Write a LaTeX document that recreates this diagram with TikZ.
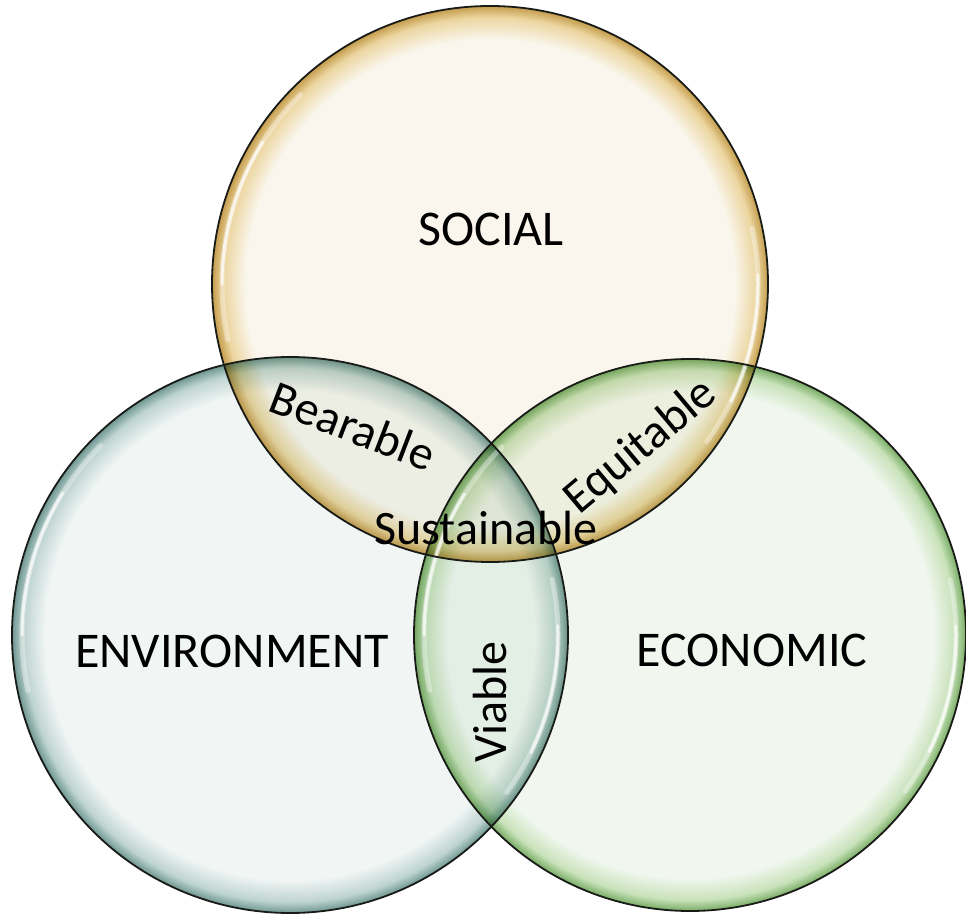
\documentclass[tikz,border=0pt]{standalone}
\usepackage{fontspec}
\setmainfont{Carlito}
\definecolor{socfill}{RGB}{250,246,237}
\definecolor{socring}{RGB}{236,214,160}
\definecolor{socedge}{RGB}{196,156,76}
\definecolor{envfill}{RGB}{241,246,245}
\definecolor{envring}{RGB}{190,212,208}
\definecolor{envedge}{RGB}{110,150,145}
\definecolor{ecofill}{RGB}{241,247,239}
\definecolor{ecoring}{RGB}{200,226,186}
\definecolor{ecoedge}{RGB}{120,172,100}
\definecolor{rimline}{RGB}{25,27,23}
\pgfdeclareradialshading{socshade}{\pgfpoint{0bp}{0bp}}{color(0bp)=(socfill); color(22bp)=(socfill); color(24bp)=(socring); color(25bp)=(socedge); color(50bp)=(socedge)}
\pgfdeclareradialshading{envshade}{\pgfpoint{0bp}{0bp}}{color(0bp)=(envfill); color(22bp)=(envfill); color(24bp)=(envring); color(25bp)=(envedge); color(50bp)=(envedge)}
\pgfdeclareradialshading{ecoshade}{\pgfpoint{0bp}{0bp}}{color(0bp)=(ecofill); color(22bp)=(ecofill); color(24bp)=(ecoring); color(25bp)=(ecoedge); color(50bp)=(ecoedge)}
\tikzset{
  disc/.style={blend mode=multiply},
  rim/.style={draw=rimline, line width=1.8pt},
  gloss/.style={draw=white, line width=5pt, line cap=round, opacity=0.35},
  glosscore/.style={draw=white, line width=3pt, line cap=round, opacity=0.7},
  bigtext/.style={font=\fontsize{50}{60}\selectfont, text=black, inner sep=0pt},
  smalltext/.style={font=\fontsize{48}{58}\selectfont, text=black, inner sep=0pt}
}
\begin{document}
\begin{tikzpicture}[x=1pt,y=1pt]
\useasboundingbox (0,0) rectangle (966,916);
\coordinate (S) at (490,632);
\coordinate (E) at (290,281);
\coordinate (C) at (690,281);
% discs
\shade[disc, shading=envshade] (E) circle[radius=278];
\shade[disc, shading=ecoshade] (C) circle[radius=276];
\shade[disc, shading=socshade] (S) circle[radius=278];
% gloss highlights
\foreach \c/\r in {S/268,E/268,C/266}{
  \path[gloss] (\c) ++(135:\r) arc[start angle=135, end angle=192, radius=\r];
  \path[glosscore] (\c) ++(148:\r) arc[start angle=148, end angle=180, radius=\r];
  \path[gloss] (\c) ++(-36:\r) arc[start angle=-36, end angle=12, radius=\r];
  \path[glosscore] (\c) ++(-26:\r) arc[start angle=-26, end angle=2, radius=\r];
}
% outlines
\draw[rim] (E) circle[radius=278];
\draw[rim] (C) circle[radius=276];
\draw[rim] (S) circle[radius=278];
% labels
\node[bigtext, anchor=base] (social) at (491,670) {SOCIAL};
\node[bigtext, anchor=base] (environment) at (232,248) {ENVIRONMENT};
\node[bigtext, anchor=base] (economic) at (752,249) {ECONOMIC};
\node[smalltext, rotate=-21] (bearable) at (353,490) {Bearable};
\node[smalltext, rotate=40] (equitable) at (641,469) {Equitable};
\node[smalltext, anchor=base] (sustainable) at (486,371) {Sustainable};
\node[smalltext, rotate=90] (viable) at (490,214) {Viable};
\end{tikzpicture}
\end{document}
